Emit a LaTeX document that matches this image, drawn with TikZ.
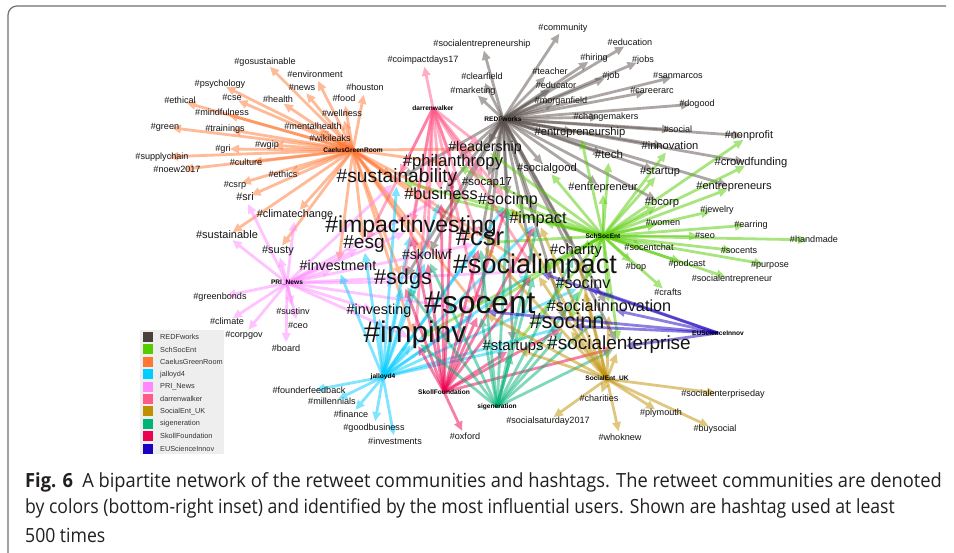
\documentclass[tikz,border=0pt]{standalone}
\usepackage{fontspec}
\setmainfont{Liberation Sans}
\newfontfamily\capfont[FakeStretch=0.9]{Open Sans}
\usetikzlibrary{arrows.meta}
\pgfdeclarelayer{paper}
\pgfdeclarelayer{edges}
\pgfsetlayers{paper,edges,main}

% community colours
\definecolor{cRED}{HTML}{5A504C}
\definecolor{cSSE}{HTML}{55CC00}
\definecolor{cCGR}{HTML}{FF7733}
\definecolor{cJAL}{HTML}{00CCFF}
\definecolor{cPRI}{HTML}{FF88FF}
\definecolor{cDW}{HTML}{FF5A8A}
\definecolor{cSEU}{HTML}{C09000}
\definecolor{cSIG}{HTML}{00B377}
\definecolor{cSKO}{HTML}{EE0050}
\definecolor{cEU}{HTML}{1A00C0}
\definecolor{lgRED}{HTML}{4A403C}
\definecolor{framegray}{HTML}{707070}
\definecolor{legendbg}{HTML}{EEEEEE}
\definecolor{captext}{HTML}{231F20}

\tikzset{
  edge/.style={line width=2.8pt, draw opacity=0.5, fill opacity=0.5,
    -{Triangle[length=9pt,width=9pt,line width=0pt]}, shorten >=7pt},
  tg/.style={inner sep=0pt, text height=0.52em, text depth=0pt,
    text=black!92, font=\fontsize{#1pt}{#1pt}\selectfont},
  tg/.default=9.1,
  hub/.style={inner sep=0pt, text=black,
    font=\fontsize{6.6pt}{6.6pt}\selectfont\bfseries},
  lgsq/.style={minimum width=10pt, minimum height=10pt, inner sep=0pt},
  lgtx/.style={anchor=west, inner sep=0pt, text=black!80,
    font=\fontsize{7.3pt}{7.3pt}\selectfont},
}

\begin{document}
\begin{tikzpicture}[x=1pt,y=-1pt]
\useasboundingbox (0,0) rectangle (954,553);
\begin{pgfonlayer}{paper}
\fill[white] (0,0) rectangle (954,553);
\end{pgfonlayer}

% figure frame
\draw[framegray, line width=1.2pt, rounded corners=9pt] (8,553) -- (8,6) -- (946,6);

% user hubs
\node[hub] (cgr) at (353,150) {CaelusGreenRoom};
\node[hub] (redf) at (503,119) {REDFworks};
\node[hub] (dw) at (433,108) {darrenwalker};
\node[hub] (sse) at (603,236) {SchSocEnt};
\node[hub] (pri) at (287,283) {PRI\_News};
\node[hub] (jal) at (383,377) {jalloyd4};
\node[hub] (sko) at (444,392) {SkollFoundation};
\node[hub] (sig) at (497,407) {sigeneration};
\node[hub] (seu) at (607,379) {SocialEnt\_UK};
\node[hub] (eu) at (718,333) {EUScienceInnov};

% small hashtags
\foreach \n/\x/\y in {
  gosustainable/265/62, environment/315/75, psychology/220/84, news/302/88,
  houston/365/88, cse/232/98, health/278/100, food/344/99, ethical/180/101,
  mindfulness/222/113, wellness/342/114, mentalhealth/313/127, green/165/127,
  trainings/225/129, wikileaks/330/139, wgip/267/145, gri/223/149,
  supplychain/162/157, culture/246/163, noew2017/177/170, ethics/283/175,
  csrp/235/185, community/563/28, socialentrepreneurship/482/44,
  education/630/43, coimpactdays17/423/60, hiring/594/58, jobs/643/60,
  teacher/550/72, clearfield/482/77, job/611/76, sanmarcos/678/76,
  educator/556/86, marketing/473/91, careerarc/652/91, morganfield/561/101,
  dogood/697/104, changemakers/606/117, social/678/130, jewelry/717/210,
  women/663/223, earring/751/225, seo/705/236, handmade/814/240,
  socentchat/649/248, socents/739/251, podcast/687/264, purpose/770/265,
  bop/636/267, socialentrepreneur/732/279, crafts/668/293,
  greenbonds/220/297, sustinv/293/312, climate/227/322, ceo/298/326,
  corpgov/244/335, board/286/349, founderfeedback/309/391,
  millennials/332/402, finance/351/415, goodbusiness/374/428,
  investments/395/442, oxford/465/437, socialenterpriseday/723/394,
  charities/599/399, plymouth/661/413, socialsaturday2017/548/421,
  buysocial/715/429, whoknew/620/438}
  \node[tg] (\n) at (\x,\y) {\#\n};

% larger hashtags
\foreach \n/\x/\y/\s in {
  sri/245/198/10.8, climatechange/295/215/10.9, sustainable/227/236/11,
  susty/278/251/11, socap17/487/183/11.5, socialgood/547/169/11.2,
  entrepreneurship/580/133/11.2, innovation/670/147/11.1, tech/609/156/11.6,
  startup/660/172/11, entrepreneur/603/188/11, nonprofit/749/136/10.8,
  crowdfunding/751/163/11.2, entrepreneurs/734/187/11.1, bcorp/662/203/11.2,
  leadership/485/149/14.2, philanthropy/453/164/16.7,
  sustainability/397/180/19.2, business/441/197/16.3, socimp/508/202/16,
  impact/538/221/16.4, impactinvesting/411/230/23, csr/480/243/25.6,
  esg/364/246/19, skollwf/427/257/14, charity/576/252/14.8,
  investment/338/268/14.2, socialimpact/535/271/27, sdgs/403/282/21.6,
  socinv/583/286/16.2, investing/379/312/14.4, socent/480/311/31.7,
  socialinnovation/609/309/16.2, socinn/567/326/21.7, impinv/415/340/29.8,
  startups/513/348/14.8, socialenterprise/619/347/19}
  \node[tg=\s] (\n) at (\x,\y) {\#\n};

% retweet edges, user -> hashtag
\begin{pgfonlayer}{edges}
\foreach \t in {gosustainable, environment, psychology, news, houston, cse,
  health, food, ethical, mindfulness, wellness, mentalhealth, green, trainings,
  wikileaks, wgip, gri, supplychain, culture, noew2017, ethics, csrp, sri,
  climatechange, sustainable, susty, investment, esg, impactinvesting,
  sustainability, business, leadership, philanthropy, csr, sdgs, socialimpact,
  socent, impinv, skollwf}
  \draw[edge, cCGR] (cgr.center) -- (\t.center);
\foreach \t in {community, socialentrepreneurship, education, hiring, jobs,
  teacher, clearfield, job, sanmarcos, educator, marketing, careerarc,
  morganfield, dogood, changemakers, entrepreneurship, social, nonprofit,
  innovation, crowdfunding, entrepreneurs, tech, startup, bcorp, entrepreneur,
  socialgood, leadership, philanthropy, socap17, sustainability, business,
  socimp, impact, csr, charity, socialimpact, socent, socinn, socialinnovation,
  socialenterprise, skollwf, sdgs, startups}
  \draw[edge, cRED] (redf.center) -- (\t.center);
\foreach \t in {handmade, purpose, socents, seo, earring, jewelry, women,
  socialentrepreneur, podcast, crafts, bop, socentchat, bcorp, entrepreneurs,
  crowdfunding, nonprofit, startup, innovation, tech, entrepreneur, socialgood,
  entrepreneurship, charity, socialimpact, socent, impact, socimp, csr,
  business, philanthropy, leadership, sustainability, socinv, socinn,
  socialinnovation, socialenterprise, startups, impinv}
  \draw[edge, cSSE] (sse.center) -- (\t.center);
\foreach \t in {greenbonds, climate, corpgov, board, ceo, sustinv, investing,
  investment, susty, sustainable, climatechange, sri, esg, impactinvesting,
  sustainability, sdgs, impinv, csr, socent, socialimpact, business}
  \draw[edge, cPRI] (pri.center) -- (\t.center);
\foreach \t in {founderfeedback, millennials, finance, goodbusiness,
  investments, impinv, investing, investment, sdgs, esg, impactinvesting,
  socent, csr, socialimpact, impact, business, socimp, skollwf, socinv, socinn,
  startups, sustainability}
  \draw[edge, cJAL] (jal.center) -- (\t.center);
\foreach \t in {coimpactdays17, leadership, philanthropy, sustainability,
  business, impactinvesting, csr, socialimpact, socent, sdgs, skollwf, socimp,
  socap17, impinv, esg}
  \draw[edge, cDW] (dw.center) -- (\t.center);
\foreach \t in {oxford, skollwf, socent, socialimpact, impactinvesting, csr,
  sdgs, socialenterprise, socinn, impinv, business, socimp, philanthropy,
  startups, impact}
  \draw[edge, cSKO] (sko.center) -- (\t.center);
\foreach \t in {socent, socialimpact, socinn, socialinnovation,
  socialenterprise, startups, csr, impact, socimp, sdgs, impinv, skollwf,
  socinv, charity}
  \draw[edge, cSIG] (sig.center) -- (\t.center);
\foreach \t in {charities, socialsaturday2017, whoknew, plymouth, buysocial,
  socialenterpriseday, socialenterprise, socinn, socent, socialimpact,
  socialinnovation, startups, charity, socinv, impact, csr, socimp}
  \draw[edge, cSEU] (seu.center) -- (\t.center);
\foreach \t in {socialinnovation, socinn, socinv, socialimpact, socent,
  socialenterprise}
  \draw[edge, cEU] (eu.center) -- (\t.center);
\end{pgfonlayer}

% legend
\fill[legendbg] (140,330) rectangle (224,454);
\foreach \c/\l [count=\i from 0] in {lgRED/REDFworks, cSSE/SchSocEnt,
  cCGR/CaelusGreenRoom, cJAL/jalloyd4, cPRI/PRI\_News, cDW/darrenwalker,
  cSEU/SocialEnt\_UK, cSIG/sigeneration, cSKO/SkollFoundation,
  cEU/EUScienceInnov}
{
  \node[lgsq, fill=\c] (sq\i) at (148,337+12.4*\i) {};
  \node[lgtx] (lt\i) at (160,337+12.4*\i) {\l};
}

% caption
\begin{scope}[every node/.style={anchor=west, inner sep=0pt, text=captext,
    font=\capfont\fontsize{19.5pt}{24pt}\selectfont}]
\node (cap1) at (25,482) {\scalebox{1.042}[1]{\textbf{Fig. 6}\hspace{0.45em}A bipartite network of the retweet communities and hashtags. The retweet communities are denoted}};
\node (cap2) at (25,508.5) {\scalebox{1.004}[1]{by colors (bottom-right inset) and identified by the most influential users. Shown are hashtag used at least}};
\node (cap3) at (25,535) {\scalebox{1.004}[1]{500 times}};
\end{scope}
\end{tikzpicture}
\end{document}
